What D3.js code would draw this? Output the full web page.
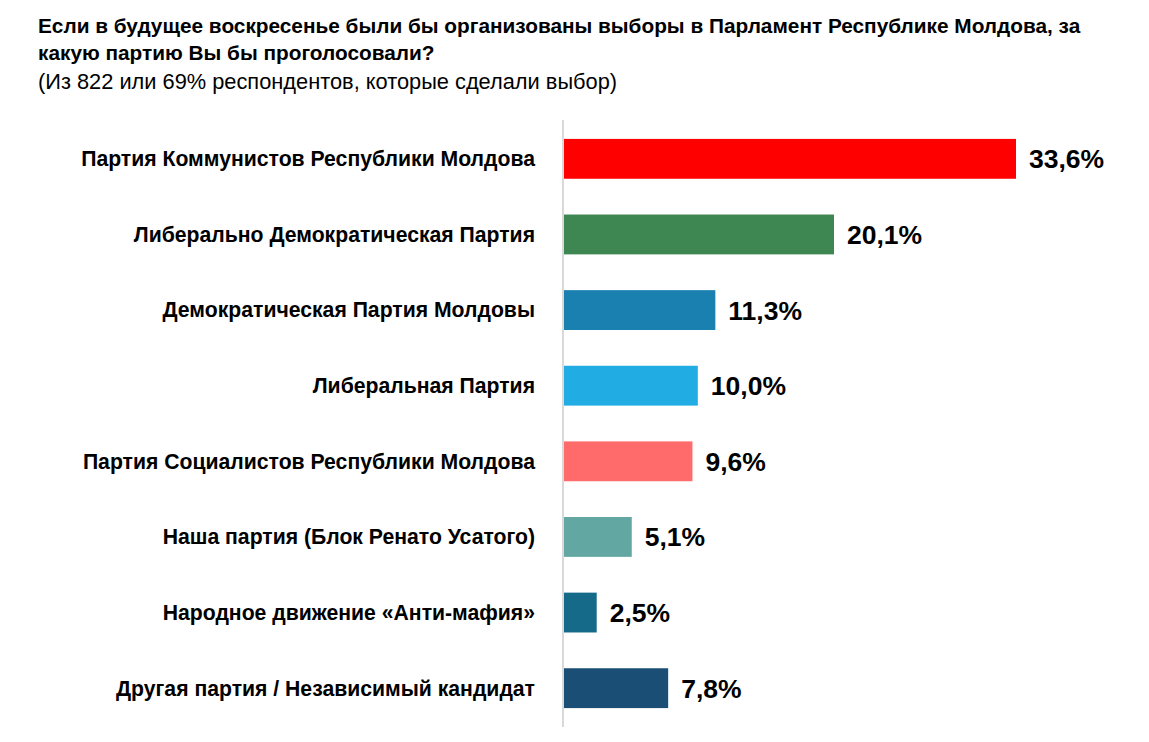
<!DOCTYPE html>
<html>
<head>
<meta charset="utf-8">
<script src="https://cdn.jsdelivr.net/npm/d3@7"></script>
<style>
  body { margin: 0; background: #fff; }
  svg text { font-family: "Liberation Sans", Arial, sans-serif; fill: #000; }
</style>
</head>
<body>
<div id="chart"></div>
<script>
const width = 1149;
const height = 742;

// Данные опроса
const parties = [
    "Партия Коммунистов Республики Молдова",
    "Либерально Демократическая Партия",
    "Демократическая Партия Молдовы",
    "Либеральная Партия",
    "Партия Социалистов Республики Молдова",
    "Наша партия (Блок Ренато Усатого)",
    "Народное движение «Анти-мафия»",
    "Другая партия / Независимый кандидат"
];
const shares = [33.6, 20.1, 11.3, 10.0, 9.6, 5.1, 2.5, 7.8];
const colors = ["#ff0000", "#3f8752", "#1a80b0", "#21ade4", "#ff6b6b", "#63a7a3", "#156a8a", "#1b4e74"];

const titleLines = [
    "Если в будущее воскресенье были бы организованы выборы в Парламент Республике Молдова, за",
    "какую партию Вы бы проголосовали?"
];
const subtitle = "(Из 822 или 69% респондентов, которые сделали выбор)";

const svg = d3.select("#chart")
    .append("svg")
    .attr("width", width)
    .attr("height", height);

// Заголовок
svg.selectAll(".title")
    .data(titleLines)
    .join("text")
    .attr("class", "title")
    .attr("x", 38)
    .attr("y", (d, i) => 33 + i * 27)
    .style("font-size", "20.8px")
    .style("font-weight", "bold")
    .text(d => d);

svg.append("text")
    .attr("x", 38)
    .attr("y", 89)
    .style("font-size", "21.8px")
    .text(subtitle);

// Шкалы
const x = d3.scaleLinear().domain([0, 33.6]).range([563, 1016]);
const y = d3.scaleBand()
    .domain(parties)
    .range([120, 727])
    .paddingInner(0.473)
    .paddingOuter(0.25);

// Столбцы
svg.selectAll(".bar")
    .data(shares)
    .join("rect")
    .attr("class", "bar")
    .attr("x", x(0))
    .attr("y", (d, i) => y(parties[i]))
    .attr("width", d => x(d) - x(0))
    .attr("height", y.bandwidth())
    .attr("fill", (d, i) => colors[i]);

// Вертикальная ось
svg.append("line")
    .attr("x1", x(0)).attr("x2", x(0))
    .attr("y1", 120).attr("y2", 727)
    .attr("stroke", "#d9d9d9")
    .attr("stroke-width", 2);

// Подписи категорий
svg.selectAll(".cat")
    .data(parties)
    .join("text")
    .attr("class", "cat")
    .attr("x", x(0) - 28)
    .attr("y", d => y(d) + y.bandwidth() / 2)
    .attr("dy", "0.35em")
    .attr("text-anchor", "end")
    .style("font-size", "21.2px")
    .style("font-weight", "bold")
    .text(d => d);

// Значения
const fmt = d => d.toFixed(1).replace(".", ",") + "%";
svg.selectAll(".val")
    .data(shares)
    .join("text")
    .attr("class", "val")
    .attr("x", d => x(d) + 13)
    .attr("y", (d, i) => y(parties[i]) + y.bandwidth() / 2)
    .attr("dy", "0.36em")
    .style("font-size", "26.5px")
    .style("font-weight", "bold")
    .text(fmt);
</script>
</body>
</html>
